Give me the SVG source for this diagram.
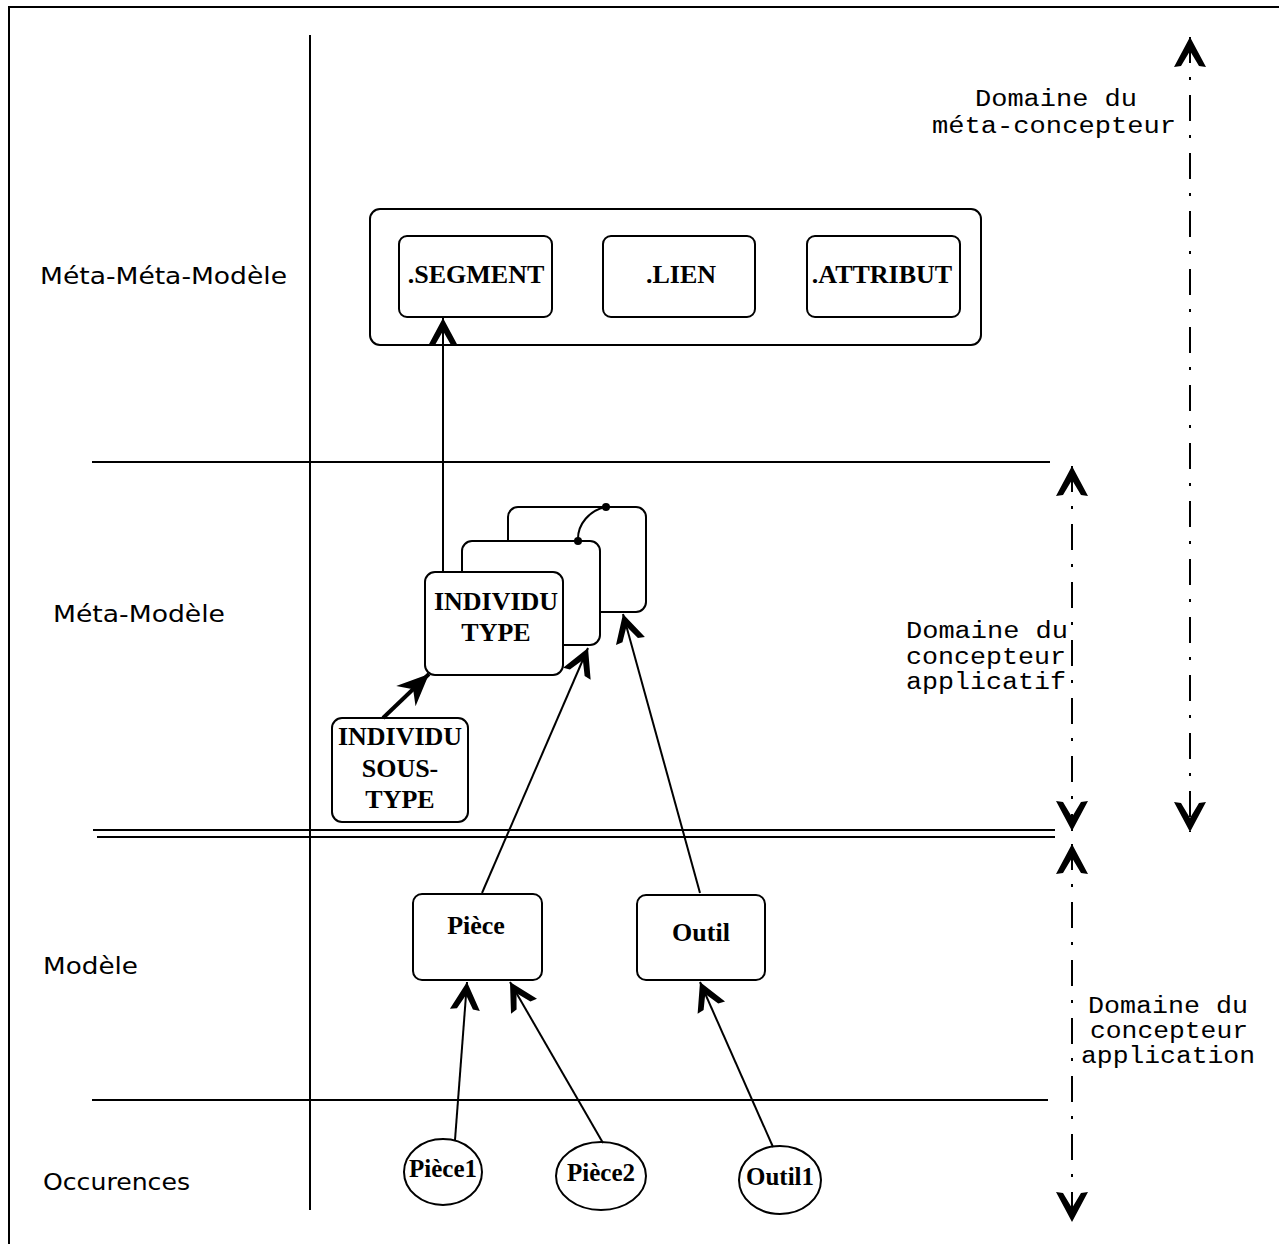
<svg xmlns="http://www.w3.org/2000/svg" width="1279" height="1244" viewBox="0 0 1279 1244">
<style>
.ln{stroke:#000;stroke-width:2;fill:none}
.box{stroke:#000;stroke-width:2;fill:#fff}
.dd{stroke:#000;stroke-width:2;fill:none;stroke-dasharray:26 14 3 15}
.lbl{font-family:"DejaVu Sans",sans-serif;font-size:23px;fill:#000}
.nt{font-family:"Liberation Serif","Times New Roman",serif;font-size:26px;font-weight:bold;fill:#000;text-anchor:middle}
.ot{font-size:25px}
.dom{font-family:"Liberation Mono","Courier New",monospace;font-size:23px;fill:#000}
</style>
<defs>
<marker id="ah" markerUnits="userSpaceOnUse" markerWidth="40" markerHeight="40" refX="0" refY="0" orient="auto" overflow="visible">
<path d="M0,0 L-28,-15 L-27,-8 L-13,0 L-27,8 L-28,15 Z" fill="#000"/>
</marker>
<marker id="ahb" markerUnits="userSpaceOnUse" markerWidth="40" markerHeight="40" refX="0" refY="0" orient="auto" overflow="visible">
<path d="M0,0 L-32,-14 L-22,0 L-32,14 Z" fill="#000"/>
</marker>
<marker id="ahd" markerUnits="userSpaceOnUse" markerWidth="40" markerHeight="40" refX="0" refY="0" orient="auto-start-reverse" overflow="visible">
<path d="M0,0 L-30,-16 L-29,-9 L-14,0 L-29,9 L-30,16 Z" fill="#000"/>
</marker>
</defs>
<rect width="1279" height="1244" fill="#fff"/>

<g id="frame">
<line class="ln" x1="8" y1="7" x2="1279" y2="7"/>
<line class="ln" x1="9" y1="7" x2="9" y2="1244"/>
<line class="ln" x1="310" y1="35" x2="310" y2="1210"/>
<line class="ln" x1="92" y1="462" x2="1050" y2="462"/>
<line class="ln" x1="93" y1="830" x2="1055" y2="830"/>
<line class="ln" x1="97" y1="837" x2="1055" y2="837"/>
<line class="ln" x1="92" y1="1100" x2="1048" y2="1100"/>
</g>

<g id="level-labels">
<text class="lbl" x="40" y="284" textLength="247" lengthAdjust="spacingAndGlyphs">Méta-Méta-Modèle</text>
<text class="lbl" x="53" y="622" textLength="172" lengthAdjust="spacingAndGlyphs">Méta-Modèle</text>
<text class="lbl" x="43" y="974" textLength="95" lengthAdjust="spacingAndGlyphs">Modèle</text>
<text class="lbl" x="43" y="1190" textLength="147" lengthAdjust="spacingAndGlyphs">Occurences</text>
</g>

<g id="meta-meta-modele">
<rect class="box" x="370" y="209" width="611" height="136" rx="10"/>
</g>
<g id="segment">
<rect class="box" x="399" y="236" width="153" height="81" rx="8"/>
<text class="nt" x="476" y="283">.SEGMENT</text>
</g>
<g id="lien">
<rect class="box" x="603" y="236" width="152" height="81" rx="8"/>
<text class="nt" x="681" y="283">.LIEN</text>
</g>
<g id="attribut">
<rect class="box" x="807" y="236" width="153" height="81" rx="8"/>
<text class="nt" x="882" y="283">.ATTRIBUT</text>
</g>

<g id="individu-type-stack-back">
<rect class="box" x="508" y="507" width="138" height="105" rx="10"/>
</g>
<g id="individu-type-stack-middle">
<rect class="box" x="462" y="541" width="138" height="104" rx="10"/>
</g>
<g id="individu-type">
<rect class="box" x="425" y="572" width="138" height="103" rx="10"/>
<text class="nt" x="496" y="610">INDIVIDU</text>
<text class="nt" x="496" y="641">TYPE</text>
</g>

<g id="individu-sous-type">
<rect class="box" x="332" y="718" width="136" height="104" rx="10"/>
<text class="nt" x="400" y="745">INDIVIDU</text>
<text class="nt" x="400" y="777">SOUS-</text>
<text class="nt" x="400" y="808">TYPE</text>
</g>

<g id="piece">
<rect class="box" x="413" y="894" width="129" height="86" rx="9"/>
<text class="nt" x="476" y="934">Pièce</text>
</g>
<g id="outil">
<rect class="box" x="637" y="895" width="128" height="85" rx="9"/>
<text class="nt" x="701" y="941">Outil</text>
</g>

<g id="piece1">
<ellipse class="box" cx="443" cy="1172" rx="39" ry="33"/>
<text class="nt ot" x="443" y="1177">Pièce1</text>
</g>
<g id="piece2">
<ellipse class="box" cx="601" cy="1176" rx="45" ry="34"/>
<text class="nt ot" x="601" y="1181">Pièce2</text>
</g>
<g id="outil1">
<ellipse class="box" cx="780" cy="1180" rx="41" ry="34"/>
<text class="nt ot" x="780" y="1185">Outil1</text>
</g>

<g id="connectors">
<line class="ln" x1="443" y1="572" x2="443" y2="318" marker-end="url(#ah)"/>
<line x1="383" y1="718" x2="429" y2="674" stroke="#000" stroke-width="4" marker-end="url(#ahb)"/>
<line class="ln" x1="482" y1="893" x2="588" y2="648" marker-end="url(#ah)"/>
<line class="ln" x1="700" y1="893" x2="623" y2="614" marker-end="url(#ah)"/>
<line class="ln" x1="455" y1="1140" x2="467" y2="982" marker-end="url(#ah)"/>
<line class="ln" x1="603" y1="1143" x2="510" y2="982" marker-end="url(#ah)"/>
<line class="ln" x1="773" y1="1147" x2="700" y2="982" marker-end="url(#ah)"/>
<path class="ln" d="M578,541 C577,524 590,510 606,507"/>
<circle cx="578" cy="541" r="4" fill="#000"/>
<circle cx="606" cy="507" r="4" fill="#000"/>
</g>

<g id="domains">
<line class="dd" x1="1190" y1="37" x2="1190" y2="832" marker-start="url(#ahd)" marker-end="url(#ahd)"/>
<line class="dd" x1="1072" y1="466" x2="1072" y2="831" marker-start="url(#ahd)" marker-end="url(#ahd)"/>
<line class="dd" x1="1072" y1="844" x2="1072" y2="1222" marker-start="url(#ahd)" marker-end="url(#ahd)"/>
<text class="dom" x="975" y="106" textLength="162" lengthAdjust="spacingAndGlyphs">Domaine du</text>
<text class="dom" x="932" y="133" textLength="244" lengthAdjust="spacingAndGlyphs">méta-concepteur</text>
<text class="dom" x="906" y="638" textLength="162" lengthAdjust="spacingAndGlyphs">Domaine du</text>
<text class="dom" x="906" y="664" textLength="160" lengthAdjust="spacingAndGlyphs">concepteur</text>
<text class="dom" x="906" y="689" textLength="160" lengthAdjust="spacingAndGlyphs">applicatif</text>
<text class="dom" x="1088" y="1013" textLength="160" lengthAdjust="spacingAndGlyphs">Domaine du</text>
<text class="dom" x="1090" y="1038" textLength="158" lengthAdjust="spacingAndGlyphs">concepteur</text>
<text class="dom" x="1081" y="1063" textLength="174" lengthAdjust="spacingAndGlyphs">application</text>
</g>
</svg>
